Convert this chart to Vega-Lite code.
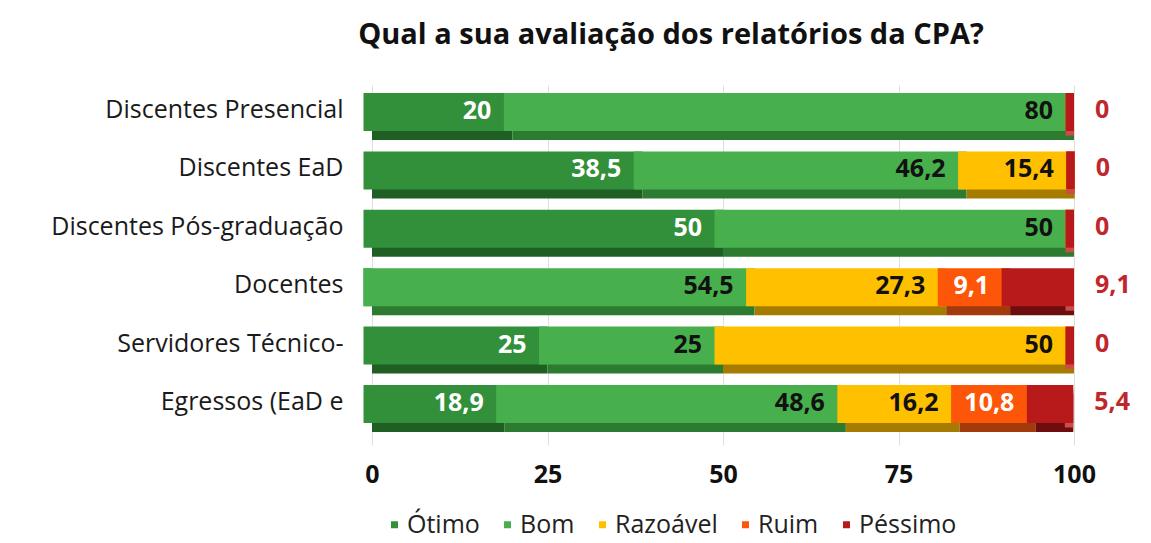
{
  "$schema": "https://vega.github.io/schema/vega-lite/v6.json",
  "width": 702,
  "height": 360,
  "autosize": {"type": "none"},
  "padding": {"left": 372, "top": 85, "right": 77, "bottom": 98},
  "background": "white",
  "title": {
    "text": "Qual a sua avaliação dos relatórios da CPA?",
    "anchor": "middle",
    "frame": "group",
    "dx": -52,
    "fontSize": 29,
    "fontWeight": "bold",
    "font": "Open Sans",
    "color": "#111111",
    "baseline": "bottom",
    "offset": 6
  },
  "data": {
    "values": [
      {"cat": "Discentes Presencial", "seg": "Ótimo", "k": 1, "value": 20, "lbl": "20"},
      {"cat": "Discentes Presencial", "seg": "Bom", "k": 2, "value": 80, "lbl": "80"},
      {"cat": "Discentes Presencial", "seg": "Razoável", "k": 3, "value": 0, "lbl": "0"},
      {"cat": "Discentes Presencial", "seg": "Ruim", "k": 4, "value": 0, "lbl": "0"},
      {"cat": "Discentes Presencial", "seg": "Péssimo", "k": 5, "value": 0, "lbl": "0"},
      {"cat": "Discentes EaD", "seg": "Ótimo", "k": 1, "value": 38.5, "lbl": "38,5"},
      {"cat": "Discentes EaD", "seg": "Bom", "k": 2, "value": 46.2, "lbl": "46,2"},
      {"cat": "Discentes EaD", "seg": "Razoável", "k": 3, "value": 15.4, "lbl": "15,4"},
      {"cat": "Discentes EaD", "seg": "Ruim", "k": 4, "value": 0, "lbl": "0"},
      {"cat": "Discentes EaD", "seg": "Péssimo", "k": 5, "value": 0, "lbl": "0"},
      {"cat": "Discentes Pós-graduação", "seg": "Ótimo", "k": 1, "value": 50, "lbl": "50"},
      {"cat": "Discentes Pós-graduação", "seg": "Bom", "k": 2, "value": 50, "lbl": "50"},
      {"cat": "Discentes Pós-graduação", "seg": "Razoável", "k": 3, "value": 0, "lbl": "0"},
      {"cat": "Discentes Pós-graduação", "seg": "Ruim", "k": 4, "value": 0, "lbl": "0"},
      {"cat": "Discentes Pós-graduação", "seg": "Péssimo", "k": 5, "value": 0, "lbl": "0"},
      {"cat": "Docentes", "seg": "Ótimo", "k": 1, "value": 0, "lbl": "0"},
      {"cat": "Docentes", "seg": "Bom", "k": 2, "value": 54.5, "lbl": "54,5"},
      {"cat": "Docentes", "seg": "Razoável", "k": 3, "value": 27.3, "lbl": "27,3"},
      {"cat": "Docentes", "seg": "Ruim", "k": 4, "value": 9.1, "lbl": "9,1"},
      {"cat": "Docentes", "seg": "Péssimo", "k": 5, "value": 9.1, "lbl": "9,1"},
      {"cat": "Servidores Técnico-", "seg": "Ótimo", "k": 1, "value": 25, "lbl": "25"},
      {"cat": "Servidores Técnico-", "seg": "Bom", "k": 2, "value": 25, "lbl": "25"},
      {"cat": "Servidores Técnico-", "seg": "Razoável", "k": 3, "value": 50, "lbl": "50"},
      {"cat": "Servidores Técnico-", "seg": "Ruim", "k": 4, "value": 0, "lbl": "0"},
      {"cat": "Servidores Técnico-", "seg": "Péssimo", "k": 5, "value": 0, "lbl": "0"},
      {"cat": "Egressos (EaD e", "seg": "Ótimo", "k": 1, "value": 18.9, "lbl": "18,9"},
      {"cat": "Egressos (EaD e", "seg": "Bom", "k": 2, "value": 48.6, "lbl": "48,6"},
      {"cat": "Egressos (EaD e", "seg": "Razoável", "k": 3, "value": 16.2, "lbl": "16,2"},
      {"cat": "Egressos (EaD e", "seg": "Ruim", "k": 4, "value": 10.8, "lbl": "10,8"},
      {"cat": "Egressos (EaD e", "seg": "Péssimo", "k": 5, "value": 5.4, "lbl": "5,4"}
    ]
  },
  "transform": [
    {"stack": "value", "groupby": ["cat"], "sort": [{"field": "k", "order": "ascending"}], "as": ["x0", "x1"]}
  ],
  "encoding": {
    "y": {
      "field": "cat",
      "type": "nominal",
      "sort": ["Discentes Presencial", "Discentes EaD", "Discentes Pós-graduação", "Docentes", "Servidores Técnico-", "Egressos (EaD e"],
      "scale": {"paddingInner": 0, "paddingOuter": 0.082},
      "axis": {
        "title": null,
        "domain": false,
        "ticks": false,
        "grid": false,
        "labelFontSize": 25,
        "labelColor": "#1a1a1a",
        "labelPadding": 29,
        "labelOffset": -9,
        "labelLimit": 400
      }
    }
  },
  "layer": [
    {
      "mark": {"type": "bar", "height": 38, "yOffset": 2},
      "encoding": {
        "x": {
          "field": "x0",
          "type": "quantitative",
          "scale": {"domain": [0, 100], "nice": false},
          "axis": {
            "title": null,
            "values": [0, 25, 50, 75, 100],
            "domain": false,
            "ticks": false,
            "grid": true,
            "gridColor": "#dedede",
            "gridWidth": 1,
            "labelFontSize": 25,
            "labelFontWeight": "bold",
            "labelColor": "#111111",
            "labelPadding": 17,
            "labelFlush": false
          }
        },
        "x2": {"field": "x1"},
        "fill": {
          "field": "k",
          "type": "ordinal",
          "scale": {
            "domain": [1, 2, 3, 4, 5],
            "range": ["#1f5f24", "#2d7a31", "#a67c00", "#a23a0c", "#6e0d0e"]
          },
          "legend": null
        }
      }
    },
    {
      "transform": [{"filter": "datum.k == 5"}],
      "mark": {"type": "tick", "thickness": 8.5, "size": 38, "xOffset": -4.25, "yOffset": -2.5, "color": "#cc4c4c", "opacity": 1},
      "encoding": {
        "x": {"field": "x1", "type": "quantitative"}
      }
    },
    {
      "mark": {"type": "bar", "height": 38, "xOffset": -8.5, "yOffset": -7},
      "encoding": {
        "x": {"field": "x0", "type": "quantitative"},
        "x2": {"field": "x1"},
        "color": {
          "field": "seg",
          "type": "nominal",
          "scale": {
            "domain": ["Ótimo", "Bom", "Razoável", "Ruim", "Péssimo"],
            "range": ["#33903a", "#47b04c", "#ffc000", "#fd5608", "#b8191b"]
          },
          "legend": {
            "title": null,
            "orient": "none",
            "legendX": 10,
            "legendY": 427,
            "direction": "horizontal",
            "columns": 5,
            "symbolType": "square",
            "symbolSize": 49,
            "labelFontSize": 25,
            "labelColor": "#222222",
            "labelOffset": 0,
            "columnPadding": 15,
            "padding": 0
          }
        }
      }
    },
    {
      "transform": [{"filter": "datum.value > 0 && datum.k < 5"}],
      "mark": {"type": "text", "align": "right", "baseline": "middle", "dx": -21, "yOffset": -8, "fontSize": 25, "fontWeight": "bold"},
      "encoding": {
        "x": {"field": "x1", "type": "quantitative"},
        "text": {"field": "lbl"},
        "color": {"condition": {"test": "datum.k == 1 || datum.k == 4", "value": "#ffffff"}, "value": "#111111"}
      }
    },
    {
      "transform": [{"filter": "datum.k == 5"}],
      "mark": {"type": "text", "align": "left", "baseline": "middle", "dx": 21, "yOffset": -9, "fontSize": 25, "fontWeight": "bold", "color": "#c0272d"},
      "encoding": {
        "x": {"field": "x1", "type": "quantitative"},
        "text": {"field": "lbl"}
      }
    }
  ],
  "config": {"view": {"stroke": null}, "font": "Open Sans"}
}
